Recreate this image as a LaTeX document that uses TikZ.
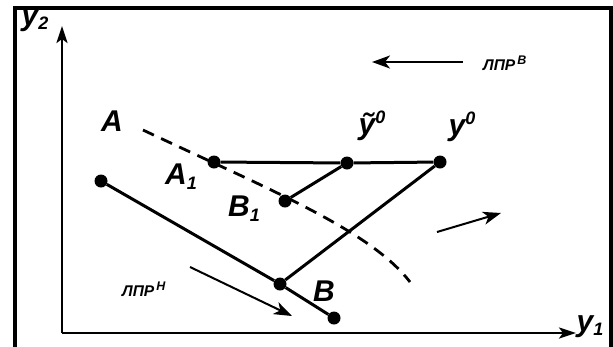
\documentclass[tikz,border=0pt]{standalone}
\usepackage{fontspec}
\setmainfont{Liberation Sans}
\usetikzlibrary{arrows.meta}
\begin{document}
\begin{tikzpicture}[x=1pt,y=-1pt,
  lbl/.style={font=\fontsize{30}{30}\selectfont\bfseries\itshape, inner sep=0pt},
  small/.style={font=\fontsize{15.5}{15.5}\selectfont\bfseries\itshape, inner sep=0pt},
  dot/.style={circle, fill=black, inner sep=0pt, minimum size=13pt},
  seg/.style={line width=3pt},
  axis/.style={line width=2.4pt, -{Stealth[length=17pt,width=11pt,inset=4pt]}},
  dir/.style={line width=2pt, -{Stealth[length=18pt,width=13pt,inset=5pt]}}]
\useasboundingbox (0,0) rectangle (613,346);
\draw[line width=4.5pt] (15,352) -- (15,8) -- (611,8) -- (611,352);
% axes
\coordinate (O) at (62,333);
\coordinate (Y2) at (62,26);
\coordinate (Y1) at (576,333);
\draw[axis] (O) -- (Y2);
\draw[axis] (O) -- (Y1);
\node[lbl] (ly2) at (35,21) {y\raisebox{-0.25ex}{\fontsize{18}{18}\selectfont 2}};
\node[lbl] (ly1) at (590,327) {y\raisebox{-0.25ex}{\fontsize{18}{18}\selectfont 1}};
% dashed curve
\coordinate (c0) at (143,130);
\coordinate (c1) at (410,282);
\draw[line width=2.8pt, dash pattern=on 12pt off 8pt] (c0) .. controls (270,190) and (370,230) .. (c1);
% points
\node[dot] (A1) at (214,162) {};
\node[dot] (yt) at (347,163) {};
\node[dot] (y0) at (440,162) {};
\node[dot] (B1) at (285,201) {};
\node[dot] (P) at (101,181) {};
\node[dot] (M) at (280,284) {};
\node[dot] (B) at (334,318) {};
\draw[seg] (A1) -- (yt) -- (y0);
\draw[seg] (yt) -- (B1);
\draw[seg] (y0) -- (M);
\draw[seg] (P) -- (M) -- (B);
% labels
\node[lbl] (lA) at (112,121) {A};
\node[lbl] (lA1) at (181,177) {A\raisebox{-0.3ex}{\fontsize{18}{18}\selectfont 1}};
\node[lbl] (lB1) at (244,209) {B\raisebox{-0.3ex}{\fontsize{18}{18}\selectfont 1}};
\node[lbl] (lB) at (324,291) {B};
\node[lbl] (lyt) at (372,126) {ỹ\raisebox{0.7ex}{\fontsize{18}{18}\selectfont 0}};
\node[lbl] (ly0) at (462,127) {y\raisebox{0.7ex}{\fontsize{18}{18}\selectfont 0}};
% direction arrows
\coordinate (a1s) at (463,62);
\coordinate (a1e) at (372,62);
\draw[dir] (a1s) -- (a1e);
\node[small, anchor=west] (lv) at (483,63) {ЛПР\raisebox{0.75ex}{\fontsize{12.5}{12.5}\selectfont\,В}};
\coordinate (a2s) at (437,232);
\coordinate (a2e) at (501,213);
\draw[dir] (a2s) -- (a2e);
\coordinate (a3s) at (190,267);
\coordinate (a3e) at (292,316);
\draw[dir] (a3s) -- (a3e);
\node[small, anchor=west] (ln) at (122,289) {ЛПР\raisebox{0.75ex}{\fontsize{12.5}{12.5}\selectfont\,Н}};
\end{tikzpicture}
\end{document}
